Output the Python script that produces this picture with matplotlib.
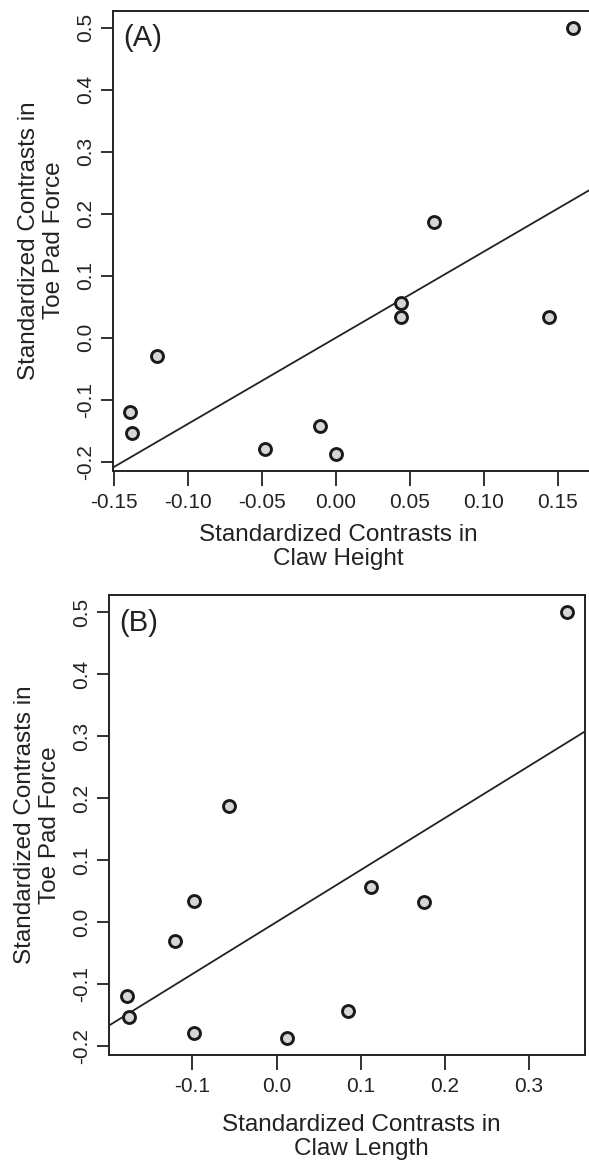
import numpy as np
import matplotlib
matplotlib.use('Agg')
import matplotlib.pyplot as plt
from matplotlib.ticker import FormatStrFormatter

plt.rcParams['font.family'] = ['Liberation Sans', 'DejaVu Sans']
plt.rcParams['axes.unicode_minus'] = False

# --- data ---
toe_pad_force = [0.500, 0.187, 0.056, 0.033, 0.034, -0.030, -0.120, -0.153, -0.179, -0.143, -0.187]
claw_height = [0.160, 0.066, 0.044, 0.044, 0.144, -0.121, -0.139, -0.138, -0.048, -0.011, 0.000]
claw_length = [0.345, -0.056, 0.112, 0.175, -0.098, -0.121, -0.178, -0.175, -0.098, 0.085, 0.012]

yticks = [-0.2, -0.1, 0.0, 0.1, 0.2, 0.3, 0.4, 0.5]
xticks_a = [-0.15, -0.10, -0.05, 0.00, 0.05, 0.10, 0.15]
xticks_b = [-0.1, 0.0, 0.1, 0.2, 0.3]

INK = '#222222'
W, H = 589, 1163


def r_lim(v):
    # R default axis range: data range extended by 4 % on each side
    lo, hi = min(v), max(v)
    d = (hi - lo) * 0.04
    return lo - d, hi + d


def panel(rect, x, y, xticks, xfmt, tag, xlab, xlab_xy, ylab_x):
    l, t, r, b = rect
    ax = fig.add_axes([l / W, 1 - b / H, (r - l) / W, (b - t) / H])
    x = np.asarray(x)
    y = np.asarray(y)

    # regression through the origin (standardized contrasts)
    slope = np.sum(x * y) / np.sum(x * x)
    ax.axline((0, 0), slope=slope, color=INK, lw=1.3, zorder=2)
    ax.plot(x, y, 'o', ms=8.6, mfc='#d6d6d6', mec='#1a1a1a', mew=2.1, zorder=3)

    ax.set_xlim(*r_lim(x))
    ax.set_ylim(*r_lim(y))
    ax.set_xticks(xticks)
    ax.set_yticks(yticks)
    ax.xaxis.set_major_formatter(FormatStrFormatter(xfmt))
    ax.yaxis.set_major_formatter(FormatStrFormatter('%.1f'))
    ax.tick_params(axis='x', length=11, width=1.3, color=INK, labelcolor=INK,
                   labelsize=15, pad=5)
    ax.tick_params(axis='y', length=8.6, width=1.3, color=INK, labelcolor=INK,
                   labelsize=15, pad=4)
    for lab in ax.get_yticklabels():
        lab.set_rotation(90)
        lab.set_va('center')
    for s in ax.spines.values():
        s.set_color(INK)
        s.set_linewidth(1.4)

    ax.text(0.022, 0.94, tag, transform=ax.transAxes, fontsize=21, color=INK,
            ha='left', va='center')
    fig.text(xlab_xy[0] / W, 1 - xlab_xy[1] / H, xlab, fontsize=17.5,
             color=INK, ha='center', va='center', linespacing=1.15)
    fig.text(ylab_x / W, 1 - (t + b) / 2 / H, 'Standardized Contrasts in\nToe Pad Force',
             rotation=90, fontsize=17.5, color=INK, ha='center', va='center',
             linespacing=1.2)
    return ax


fig = plt.figure(figsize=(W / 100, H / 100), dpi=100)

panel((112.7, 10.5, 590.4, 470.7), claw_height, toe_pad_force, xticks_a, '%.2f',
      '(A)', 'Standardized Contrasts in\nClaw Height', (338, 547), 41.5)
panel((109.0, 595.0, 584.7, 1055.0), claw_length, toe_pad_force, xticks_b, '%.1f',
      '(B)', 'Standardized Contrasts in\nClaw Length', (361, 1137), 37.5)

fig.savefig('out.png', dpi=100)
